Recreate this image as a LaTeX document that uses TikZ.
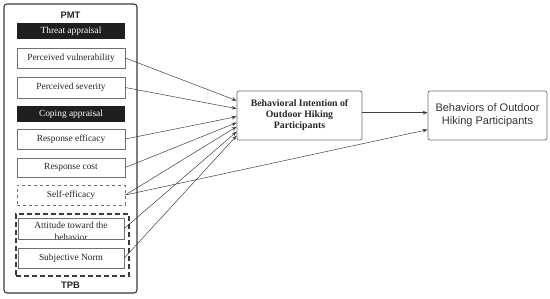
\documentclass[tikz,border=0pt]{standalone}
\usepackage{fontspec}
\setmainfont{Liberation Serif}
\newfontfamily\arialfont{Liberation Sans}
\usetikzlibrary{calc,arrows.meta}
\definecolor{boxgray}{HTML}{707070}
\definecolor{panelgray}{HTML}{3A3A3A}
\definecolor{arrowgray}{HTML}{404040}
\begin{document}
\begin{tikzpicture}[x=1pt,y=-1pt,
  leftbox/.style={draw=boxgray,line width=0.6pt,minimum width=108pt,minimum height=20pt,inner sep=0pt,font=\fontsize{9.4}{10}\selectfont,text=black!85},
  barbox/.style={fill=black!88,draw=none,minimum width=108pt,minimum height=16pt,inner sep=0pt,font=\fontsize{9.4}{10}\selectfont,text=white},
  bigbox/.style={draw=boxgray,line width=0.7pt,rounded corners=2pt,minimum height=49pt,inner sep=0pt,align=center},
  arr/.style={draw=arrowgray,line width=0.5pt,-{Stealth[length=5pt,width=3.6pt]}}
]
\useasboundingbox[fill=white] (0,0) rectangle (550,298);
% outer panel
\node[draw=panelgray,line width=1.1pt,rounded corners=3pt,minimum width=133pt,minimum height=289pt,inner sep=0pt] (panel) at (70.5,148.5) {};
\node[font=\arialfont\bfseries\fontsize{9.4}{10}\selectfont,text=black!85] (pmt) at (70.5,15) {PMT};
\node[font=\arialfont\bfseries\fontsize{9.4}{10}\selectfont,text=black!85] (tpb) at (70.5,285) {TPB};
% PMT items
\node[barbox] (threat) at (71,31) {Threat appraisal};
\node[leftbox] (vul) at (71,58) {Perceived vulnerability};
\node[leftbox,minimum height=21pt] (sev) at (71,87.5) {Perceived severity};
\node[barbox] (coping) at (71,114) {Coping appraisal};
\node[leftbox] (reff) at (71,139) {Response efficacy};
\node[leftbox,minimum height=19pt] (rcost) at (71,167.5) {Response cost};
\node[leftbox,dashed] (seff) at (71,195) {Self-efficacy};
% TPB items
\node[draw=panelgray,line width=1.3pt,dash pattern=on 5pt off 3pt,minimum width=113pt,minimum height=62pt,inner sep=0pt] (tpbbox) at (72.5,245) {};
\node[font=\fontsize{9.4}{11.5}\selectfont,align=center,text=black!85,inner sep=0pt] (atttext) at (71,231.5) {Attitude toward the\\behavior};
\node[leftbox,minimum width=106pt,minimum height=21pt] (att) at (71,228.5) {};
\node[leftbox,minimum width=106pt] (sn) at (71,258) {Subjective Norm};
% main boxes
\node[bigbox,minimum width=125pt,font=\bfseries\fontsize{9.8}{11}\selectfont,text=black!85] (ci) at (299.5,115.5) {Behavioral Intention of\\Outdoor Hiking\\Participants};
\node[bigbox,minimum width=119pt,font=\arialfont\fontsize{11}{13}\selectfont,text=black!80] (bo) at (487.5,115.5) {Behaviors of Outdoor\\Hiking Participants};
% targets
\coordinate (t1) at ($(ci.north west)+(0,10)$);
\coordinate (t2) at ($(ci.north west)+(0,18)$);
\coordinate (t3) at ($(ci.north west)+(0,26)$);
\coordinate (t4) at ($(ci.north west)+(0,32)$);
\coordinate (t5) at ($(ci.north west)+(0,36)$);
\coordinate (t6) at ($(ci.north west)+(0,41)$);
\coordinate (t7) at ($(ci.north west)+(0,45)$);
\coordinate (t8) at ($(bo.north west)+(0,39)$);
\coordinate (s9) at ($(ci.north east)+(0,22)$);
\coordinate (t9) at ($(bo.north west)+(0,22)$);
\draw[arr] (vul.east) -- (t1);
\draw[arr] (sev.east) -- (t2);
\draw[arr] (reff.east) -- (t3);
\draw[arr] (rcost.east) -- (t4);
\draw[arr] (seff.east) -- (t5);
\draw[arr] (att.east) -- (t6);
\draw[arr] (sn.east) -- (t7);
\draw[arr] (seff.east) -- (t8);
\draw[arr] (s9) -- (t9);
\end{tikzpicture}
\end{document}
